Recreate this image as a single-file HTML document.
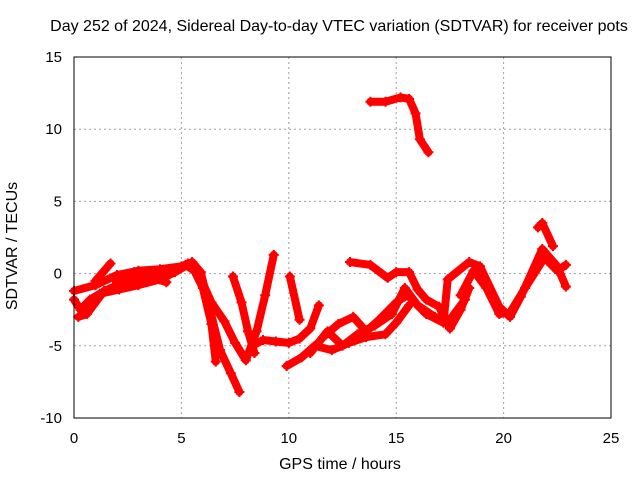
<!DOCTYPE html>
<html><head><meta charset="utf-8"><style>
body{margin:0;background:#fff}
svg{display:block;font-family:"Liberation Sans",sans-serif}
</style></head><body>
<svg id="c" width="640" height="480"></svg>
<script>
const xTicks=[0,5,10,15,20,25];
const yTicks=[-10,-5,0,5,10,15];
const trackA=[[13.8,11.9],[14.5,11.9],[15.2,12.2],[15.6,12.1],[15.9,11.1],[16.1,9.3],[16.5,8.4]];
const trackB=[[0,-1.8],[0.3,-2.5],[0.75,-1.8],[1.2,-1.4],[2.1,-1.1],[3.0,-0.8],[4.0,-0.4],[4.7,0.1],[5.5,0.8],[5.9,0.1],[6.3,-2.3],[6.8,-5.3],[7.3,-6.9],[7.7,-8.2]];
const trackC=[[0,-1.2],[1,-0.8],[2,-0.1],[3,0.2],[4,0.3],[5,0.5],[5.5,0.5],[6,-1],[6.4,-3.5],[6.6,-6.1]];
const trackD=[[5.2,0.6],[5.8,0],[6.4,-2],[7.0,-3.3],[7.5,-4.8],[8.0,-6.0],[8.5,-4],[8.9,-1.5],[9.3,1.3]];
const trackE=[[7.4,-0.2],[7.8,-2],[8.1,-4],[8.4,-5.5]];
const trackF=[[8.3,-5],[8.8,-4.6],[9.4,-4.7],[10,-4.8],[10.5,-4.5],[11,-3.8],[11.4,-2.2]];
const trackG=[[9.9,-6.4],[10.6,-5.8],[11.2,-5],[12,-5.3],[12.8,-4.8],[13.6,-4.4],[14.5,-4.2],[15.0,-3.4],[15.6,-2.2]];
const trackH=[[12.85,0.8],[13.8,0.6],[14.6,-0.3],[15.0,0.1],[15.6,0.1],[16.0,-1.1],[16.4,-1.8],[17.0,-2.3],[17.5,-3.8],[18.0,-2.5],[18.4,-1]];
const trackI=[[15.6,-1.6],[16.4,-2.8],[17.2,-3.4],[17.4,-0.4],[18.4,0.8],[18.9,0.5],[19.8,-2.3],[20.3,-3],[20.8,-1.6],[21.8,1.7],[22.5,0.5],[22.9,-0.9]];
const trackJ=[[18.0,-1.5],[18.6,0.2],[19.2,-1],[19.8,-2.8],[20.3,-2.7],[21,-1],[21.9,1.1],[22.5,0.2],[22.9,0.6]];
const trackK=[[21.6,3.2],[21.8,3.5],[22.3,1.9]];
const trackL=[[1.0,-0.5],[1.7,0.7]];
const trackM=[[10.05,-0.2],[10.5,-3.2]];
const trackN=[[11.6,-4.4],[12.3,-3.5],[13.0,-3.0],[13.6,-4.0],[14.2,-3.2],[15.0,-2.0],[15.5,-1.5]];
const trackO=[[0.2,-3],[0.6,-2.8],[1.4,-1.2],[2.5,-0.5],[3.5,-0.2],[4.3,-0.6]];
const trackP=[[11.0,-5.5],[11.8,-4.0],[12.5,-5.0],[13.2,-4.2],[14.0,-3.6],[14.8,-2.8],[15.4,-1.0],[16.0,-2.2],[16.8,-3.0],[17.5,-3.2],[18.2,-1.8]];
const trackQ=[[2.0,-0.6],[2.8,0.1],[3.6,0.0],[4.6,0.2],[5.3,0.7]];
const tracks=[trackA,trackB,trackC,trackD,trackE,trackF,trackG,trackH,trackI,trackJ,trackK,trackL,trackM,trackN,trackO,trackP,trackQ];

const L=74,R=611,T=57,B=418;
const xs=t=>L+(t-0)/25*(R-L);
const ys=v=>B-(v+10)/25*(B-T);
const svg=document.getElementById('c');
const NS='http://www.w3.org/2000/svg';
function mk(tag,attrs,parent){const e=document.createElementNS(NS,tag);for(const k in attrs)e.setAttribute(k,attrs[k]);(parent||svg).appendChild(e);return e;}
xTicks.forEach(t=>{
  if(t>0&&t<25){const g=mk('line',{x1:xs(t),x2:xs(t),y1:T,y2:B,stroke:'#a0a0a0','stroke-dasharray':'2,3'});
  
  }
  const tx=mk('text',{x:xs(t),y:B+25,'text-anchor':'middle','font-size':15});tx.textContent=t;
  
  
});
yTicks.forEach(v=>{
  if(v>-10&&v<15){const g=mk('line',{x1:L,x2:R,y1:ys(v),y2:ys(v),stroke:'#a0a0a0','stroke-dasharray':'2,3'});
  
  }
  const tx=mk('text',{x:L-12,y:ys(v)+5,'text-anchor':'end','font-size':15});tx.textContent=v;
  
  
});
tracks.forEach(tr=>{
  const pts=tr.map(p=>xs(p[0])+','+ys(p[1])).join(' ');
  const pl=mk('polyline',{points:pts,fill:'none',stroke:'#ff0000','stroke-width':8,'stroke-linejoin':'round','stroke-linecap':'round'});
  
  
  tr.forEach(p=>{
    const x=xs(p[0]),y=ys(p[1]);
    const m=mk('path',{d:`M${x-5},${y}H${x+5}M${x},${y-5}V${y+5}`,stroke:'#ff0000','stroke-width':2});
    
    
  });
});
const fr=mk('rect',{x:L,y:T,width:R-L,height:B-T,fill:'none',stroke:'#000','stroke-width':1});


</script>
<div style="position:absolute;left:0;top:0;width:640px;height:480px;pointer-events:none;font-family:'Liberation Sans',sans-serif">
<div style="position:absolute;left:0;width:678px;top:18px;text-align:center;font-size:16px;white-space:nowrap">Day 252 of 2024, Sidereal Day-to-day VTEC variation (SDTVAR) for receiver pots</div>
<div style="position:absolute;left:240px;width:200px;top:456px;text-align:center;font-size:16px">GPS time / hours</div>
<div style="position:absolute;left:-57px;top:237px;width:140px;text-align:center;font-size:16px;transform:rotate(-90deg)">SDTVAR / TECUs</div>
</div>
</body></html>
